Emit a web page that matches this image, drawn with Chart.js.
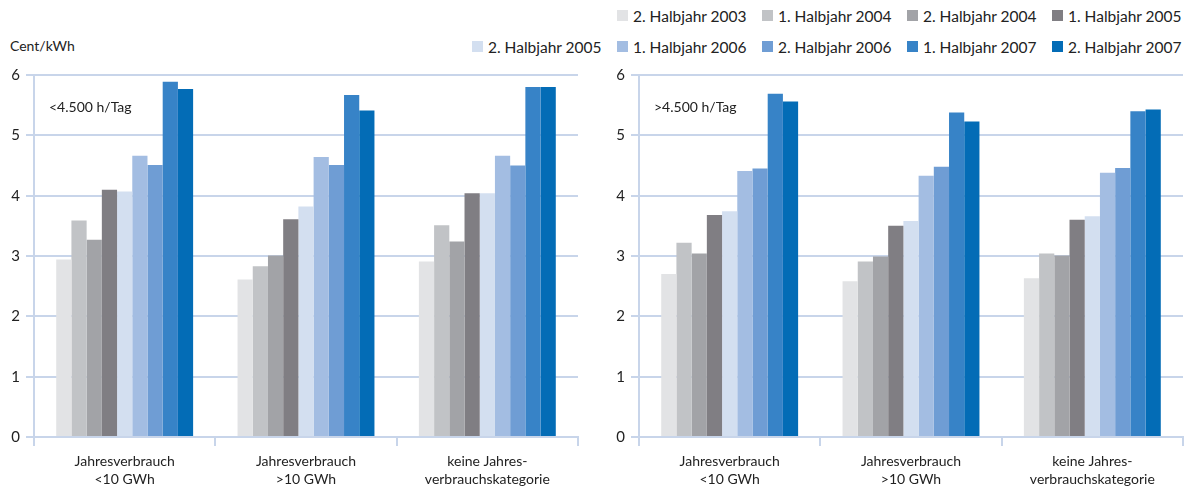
<!DOCTYPE html>
<html lang="de">
<head>
<meta charset="utf-8">
<script src="https://cdn.jsdelivr.net/npm/chart.js@4/dist/chart.umd.min.js"></script>
<style>
  body { margin: 0; background: #fff; width: 1186px; height: 491px; overflow: hidden; position: relative; font-family: Lato, "Open Sans", sans-serif; color: #222; }
  #legend { position: absolute; top: 0px; right: -11px; font-size: 15.5px; }
  .row { display: flex; justify-content: flex-end; height: 31px; align-items: center; }
  .item { display: flex; align-items: center; width: 145px; white-space: nowrap; }
  .box { width: 11px; height: 11px; margin-right: 5px; }
  #unit { position: absolute; left: 10px; top: 37px; font-size: 14px; }
  canvas { position: absolute; top: 60px; }
</style>
</head>
<body>
<div id="legend"></div>
<div id="unit">Cent/kWh</div>
<canvas id="chartLeft" width="590" height="431" style="left:0px"></canvas>
<canvas id="chartRight" width="581" height="431" style="left:605px"></canvas>
<script>
// Kategorien (Jahresverbrauch)
const categories = [
    ['Jahresverbrauch', '<10 GWh'],
    ['Jahresverbrauch', '>10 GWh'],
    ['keine Jahres-', 'verbrauchskategorie']
];

// Halbjahre und Farben
const periods = [
    '2. Halbjahr 2003', '1. Halbjahr 2004', '2. Halbjahr 2004', '1. Halbjahr 2005',
    '2. Halbjahr 2005', '1. Halbjahr 2006', '2. Halbjahr 2006', '1. Halbjahr 2007', '2. Halbjahr 2007'
];
const colors = [
    '#e2e3e5', '#c1c3c6', '#a2a3a7', '#807e83',
    '#d3dff0', '#a3bde2', '#6f9dd4', '#3783c7', '#036cb6'
];

// Preise in Cent/kWh, je Halbjahr: [<10 GWh, >10 GWh, keine Kategorie]
const lowHours = [
    [2.94, 2.61, 2.91],
    [3.59, 2.83, 3.51],
    [3.27, 3.01, 3.24],
    [4.10, 3.61, 4.04],
    [4.07, 3.82, 4.04],
    [4.66, 4.64, 4.66],
    [4.51, 4.51, 4.50],
    [5.89, 5.67, 5.80],
    [5.77, 5.41, 5.80]
];
const highHours = [
    [2.70, 2.58, 2.63],
    [3.22, 2.91, 3.04],
    [3.04, 2.99, 3.01],
    [3.68, 3.50, 3.60],
    [3.74, 3.58, 3.66],
    [4.41, 4.33, 4.38],
    [4.45, 4.48, 4.46],
    [5.69, 5.38, 5.40],
    [5.56, 5.23, 5.43]
];

const yTicks = [0, 1, 2, 3, 4, 5, 6];

// Legende: erste Zeile 4 Einträge, zweite Zeile 5
const legend = document.getElementById('legend');
[[0, 4], [4, 9]].forEach(([from, to]) => {
    const row = document.createElement('div');
    row.className = 'row';
    for (let i = from; i < to; i++) {
        row.innerHTML += `<div class="item"><div class="box" style="background:${colors[i]}"></div>${periods[i]}</div>`;
    }
    legend.appendChild(row);
});

const gridColor = '#c8d5ea';
const font = { family: 'Lato, "Open Sans", sans-serif', size: 14 };

// Beschriftung oben links im Diagramm
const cornerLabel = {
    id: 'cornerLabel',
    afterDraw(chart, args, opts) {
        const ctx = chart.ctx;
        ctx.save();
        ctx.font = '14px Lato, "Open Sans", sans-serif';
        ctx.fillStyle = '#222';
        ctx.textBaseline = 'middle';
        ctx.fillText(opts.text, chart.chartArea.left + 15, chart.chartArea.top + 32);
        ctx.restore();
    }
};

function makeChart(id, values, label, rightPad) {
    new Chart(document.getElementById(id), {
        type: 'bar',
        data: {
            labels: categories,
            datasets: periods.map((p, i) => ({
                label: p,
                data: values[i],
                backgroundColor: colors[i],
                borderWidth: 0,
                categoryPercentage: 0.755,
                barPercentage: 1
            }))
        },
        options: {
            responsive: false,
            animation: false,
            layout: { padding: { top: 10, right: rightPad, bottom: 0, left: 0 } },
            plugins: {
                legend: { display: false },
                tooltip: { enabled: false },
                cornerLabel: { text: label }
            },
            scales: {
                x: {
                    grid: { drawOnChartArea: false, drawTicks: true, tickLength: 9, color: gridColor, lineWidth: 2, offset: true },
                    border: { color: gridColor, width: 2 },
                    ticks: { font: { ...font, lineHeight: 1.3 }, color: '#222', padding: 6, maxRotation: 0, autoSkip: false },
                    afterFit(scale) { scale.height = 54; }
                },
                y: {
                    min: 0,
                    max: 6,
                    afterBuildTicks(scale) { scale.ticks = yTicks.map(v => ({ value: v })); },
                    grid: { color: gridColor, lineWidth: 2, tickLength: 8 },
                    border: { color: gridColor, width: 2 },
                    ticks: { font: { ...font, size: 15 }, color: '#222', padding: 6 },
                    afterFit(scale) { scale.width = 34; }
                }
            }
        },
        plugins: [cornerLabel]
    });
}

makeChart('chartLeft', lowHours, '<4.500 h/Tag', 12);
makeChart('chartRight', highHours, '>4.500 h/Tag', 3);
</script>
</body>
</html>
